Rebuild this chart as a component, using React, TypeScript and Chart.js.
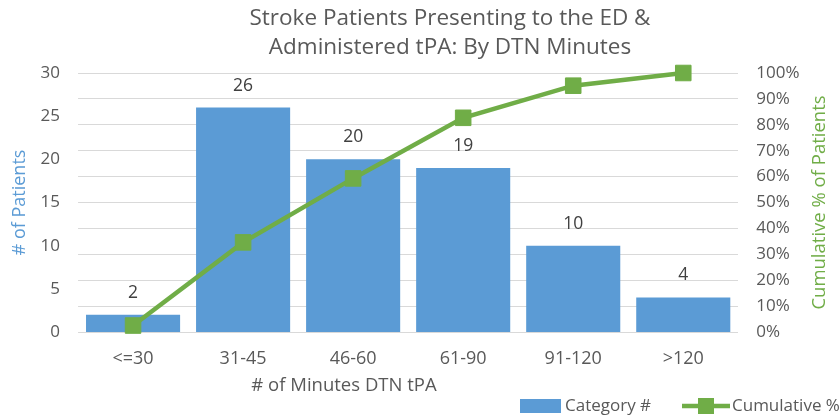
import React, { useEffect, useRef } from "react";
import { Chart, registerables } from "chart.js";

Chart.register(...registerables);

const categories = ["<=30", "31-45", "46-60", "61-90", "91-120", ">120"];
const patientCounts = [2, 26, 20, 19, 10, 4];
const cumulativePercent = [2.5, 34.6, 59.3, 82.7, 95.1, 100];
const titleLines = ["Stroke Patients Presenting to the ED &", "Administered tPA: By DTN Minutes"];
const xTitle = "# of Minutes DTN tPA";
const yLeftTitle = "# of Patients";
const yRightTitle = "Cumulative % of Patients";
const legendLabels = ["Category #", "Cumulative %"];

const BLUE = "#5B9BD5";
const GREEN = "#70AD47";
const GREY = "#595959";
const FONT = "'Open Sans', 'Noto Sans', sans-serif";

export default function App() {
  const ref = useRef<HTMLCanvasElement | null>(null);

  useEffect(() => {
    document.body.style.margin = "0";
    const canvas = ref.current;
    if (!canvas) return;

    const overlay = {
      id: "overlay",
      afterDatasetsDraw(chart: any) {
        const ctx = chart.ctx;
        const area = chart.chartArea;
        const midY = (area.top + area.bottom) / 2;
        ctx.save();
        // chart title (offset right as in reference)
        ctx.fillStyle = GREY;
        ctx.font = `22.5px ${FONT}`;
        ctx.textAlign = "center";
        ctx.textBaseline = "middle";
        ctx.fillText(titleLines[0], 450, 18.5);
        ctx.fillText(titleLines[1], 450, 47.5);
        // bar data labels
        const meta = chart.getDatasetMeta(1);
        ctx.font = `17.5px ${FONT}`;
        ctx.fillStyle = "#404040";
        meta.data.forEach((bar: any, i: number) => {
          ctx.fillText(String(patientCounts[i]), bar.x, bar.y - 22);
        });
        // x axis title
        ctx.fillStyle = GREY;
        ctx.font = `18.5px ${FONT}`;
        ctx.fillText(xTitle, 344, area.bottom + 54);
        // left axis title
        ctx.save();
        ctx.translate(20, midY);
        ctx.rotate(-Math.PI / 2);
        ctx.fillStyle = BLUE;
        ctx.font = `18px ${FONT}`;
        ctx.fillText(yLeftTitle, 0, 0);
        ctx.restore();
        // right axis title
        ctx.save();
        ctx.translate(820, midY);
        ctx.rotate(-Math.PI / 2);
        ctx.fillStyle = GREEN;
        ctx.font = `18.5px ${FONT}`;
        ctx.fillText(yRightTitle, 0, 0);
        ctx.restore();
        // legend
        const ly = 406;
        ctx.fillStyle = BLUE;
        ctx.fillRect(520, ly - 7, 41, 14);
        ctx.fillStyle = GREY;
        ctx.textAlign = "left";
        ctx.font = `17px ${FONT}`;
        ctx.fillText(legendLabels[0], 565, ly);
        ctx.strokeStyle = GREEN;
        ctx.lineWidth = 4.5;
        ctx.beginPath();
        ctx.moveTo(682, ly);
        ctx.lineTo(730, ly);
        ctx.stroke();
        ctx.fillStyle = GREEN;
        ctx.fillRect(698, ly - 8, 16, 16);
        ctx.fillStyle = GREY;
        ctx.fillText(legendLabels[1], 732, ly);
        ctx.restore();
      },
    };

    const chart = new Chart(canvas, {
      type: "bar",
      data: {
        labels: categories,
        datasets: [
          {
            type: "line",
            label: legendLabels[1],
            data: cumulativePercent,
            yAxisID: "y1",
            borderColor: GREEN,
            backgroundColor: GREEN,
            borderWidth: 4.5,
            pointStyle: "rect",
            pointRadius: 11,
            pointBorderWidth: 1,
            pointBackgroundColor: GREEN,
            pointBorderColor: GREEN,
            clip: false,
            order: 0,
          } as any,
          {
            type: "bar",
            label: legendLabels[0],
            data: patientCounts,
            yAxisID: "y",
            backgroundColor: BLUE,
            barPercentage: 0.855,
            categoryPercentage: 1,
            order: 1,
          },
        ],
      },
      options: {
        animation: false,
        responsive: false,
        maintainAspectRatio: false,
        layout: { padding: { left: 22.6, right: 21.5, top: 0, bottom: 30.4 } },
        plugins: {
          legend: { display: false },
          tooltip: { enabled: false },
          title: {
            display: true,
            text: titleLines,
            color: "rgba(0,0,0,0)",
            font: { family: FONT, size: 22, weight: "normal", lineHeight: 29 / 22 },
            padding: { top: 3.5, bottom: 11.5 },
          },
        },
        scales: {
          x: {
            grid: { display: false, drawTicks: false },
            border: { display: false },
            ticks: { color: GREY, font: { family: FONT, size: 18 }, padding: 16, maxRotation: 0 },
          },
          y: {
            position: "left",
            min: 0,
            max: 30,
            ticks: { stepSize: 5, color: GREY, font: { family: FONT, size: 17 }, padding: 18 },
            grid: { display: false, drawTicks: false },
            border: { display: false },
          },
          y1: {
            position: "right",
            min: 0,
            max: 100,
            ticks: {
              stepSize: 10,
              color: GREY,
              font: { family: FONT, size: 17 },
              padding: 18,
              callback: (v: any) => v + "%",
            },
            grid: { display: true, drawTicks: false, color: "#D9D9D9", lineWidth: 1 },
            border: { display: false },
          },
        },
      },
      plugins: [overlay],
    });

    return () => chart.destroy();
  }, []);

  return (
    <div style={{ width: 839, height: 416, position: "relative", background: "#fff" }}>
      <canvas ref={ref} width={839} height={416} style={{ display: "block" }} />
    </div>
  );
}
